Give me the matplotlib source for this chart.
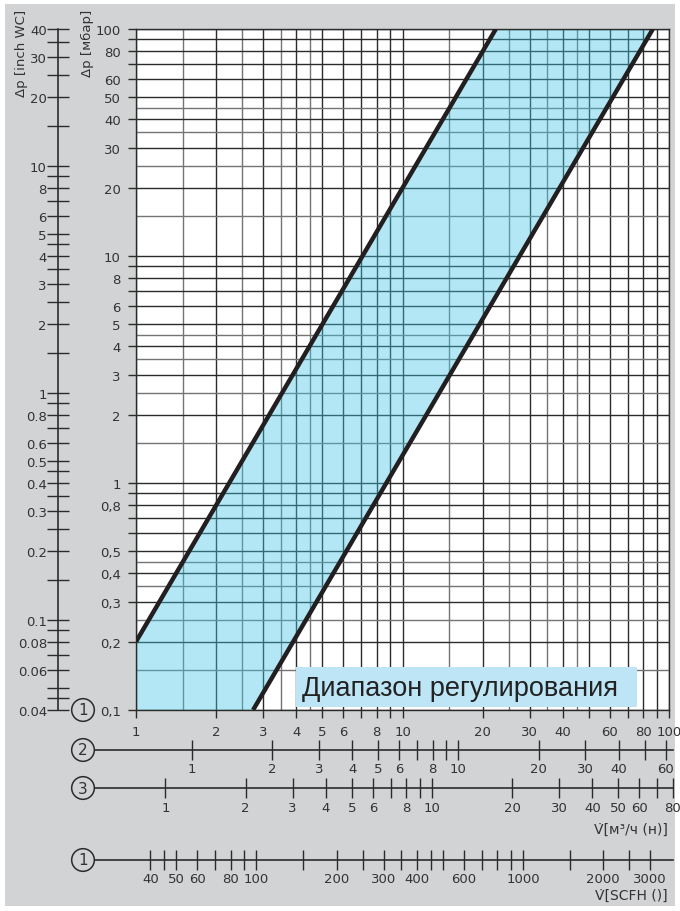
import numpy as np
import matplotlib.pyplot as plt
from matplotlib.ticker import FixedLocator, FixedFormatter, NullLocator
from matplotlib.patches import Rectangle

# границы диапазона регулирования (Δp ~ V²)
flow_left = [1.0, 22.4]
dp_left = [0.2, 100.0]
flow_right = [2.75, 87.0]
dp_right = [0.1, 100.0]

x_labels = [1, 2, 3, 4, 5, 6, 8, 10, 20, 30, 40, 60, 80, 100]
y_labels = [0.1, 0.2, 0.3, 0.4, 0.5, 0.8, 1, 2, 3, 4, 5, 6, 8, 10, 20, 30, 40, 50, 60, 80, 100]
inch_labels = [0.04, 0.06, 0.08, 0.1, 0.2, 0.3, 0.4, 0.5, 0.6, 0.8, 1, 2, 3, 4, 5, 6, 8, 10, 20, 30, 40]
row2_labels = [1, 2, 3, 4, 5, 6, 8, 10, 20, 30, 40, 60]
row3_labels = [1, 2, 3, 4, 5, 6, 8, 10, 20, 30, 40, 50, 60, 80]
scfh_labels = [40, 50, 60, 80, 100, 200, 300, 400, 600, 1000, 2000, 3000]

MBAR_PER_INCH = 2.5
ROW2_FACTOR = 1.62
ROW3_FACTOR = 1.29
SCFH_PER_M3H = 35.31

grid_steps = [1, 1.5, 2, 2.5, 3, 3.5, 4, 4.5, 5, 6, 7, 8, 9]
int_steps = [1, 2, 3, 4, 5, 6, 7, 8, 9]

BG = '#d1d3d4'
INK = '#2b2b2b'
FONT = 'DejaVu Sans'

W, H = 680, 912


def decade_ticks(steps, lo, hi):
    vals = []
    for e in range(-3, 5):
        for s in steps:
            v = s * 10.0 ** e
            if lo * 0.999 <= v <= hi * 1.001:
                vals.append(v)
    return vals


def is_half(v):
    m = v / 10 ** np.floor(np.log10(v) + 1e-9)
    return abs(m % 1 - 0.5) < 1e-6


def fmt(v, comma=False):
    s = f'{v:g}'
    return s.replace('.', ',') if comma else s


def has(v, labels):
    return any(abs(v - l) < 1e-9 * max(1, l) for l in labels)


fig = plt.figure(figsize=(W / 100, H / 100), dpi=100)
fig.patch.set_facecolor('white')
fig.add_artist(Rectangle((5 / W, 5 / H), 1 - 10 / W, 1 - 10 / H, transform=fig.transFigure,
                         facecolor=BG, edgecolor='none', zorder=-10))

# основное поле графика
L, R, T, B = 136, 669, 30, 711
ax = fig.add_axes([L / W, 1 - B / H, (R - L) / W, (B - T) / H])
ax.set_xscale('log')
ax.set_yscale('log')
ax.set_xlim(1, 100)
ax.set_ylim(0.1, 100)
ax.set_facecolor('white')

for v in decade_ticks(grid_steps, 1, 100):
    ax.axvline(v, color='#747474' if is_half(v) else INK, lw=1.0, zorder=1)
for v in decade_ticks(grid_steps, 0.1, 100):
    ax.axhline(v, color='#747474' if is_half(v) else INK, lw=1.0, zorder=1)

fill_x = [flow_left[0]] + flow_left + flow_right[::-1]
fill_y = [dp_right[0]] + dp_left + dp_right[::-1]
ax.fill(fill_x, fill_y, color='#41c5e6', alpha=0.4, lw=0, zorder=2)
ax.plot(flow_left, dp_left, color='#231f20', lw=3.2, zorder=4, solid_capstyle='butt')
ax.plot(flow_right, dp_right, color='#231f20', lw=3.2, zorder=4, solid_capstyle='butt')

ax.add_patch(Rectangle((4.0, 0.103), 72, 0.052, facecolor='#bde5f5', edgecolor='none', zorder=5))
ax.text(4.2, 0.125, 'Диапазон регулирования', fontsize=19.5, family='Liberation Sans',
        color='#222222', va='center', ha='left', zorder=6)

for s in ax.spines.values():
    s.set_color(INK)
    s.set_linewidth(1.0)

xt = decade_ticks(int_steps, 1, 100)
ax.xaxis.set_major_locator(FixedLocator(xt))
ax.xaxis.set_major_formatter(FixedFormatter([fmt(v) if has(v, x_labels) else '' for v in xt]))
ax.xaxis.set_minor_locator(NullLocator())
yt = decade_ticks(int_steps, 0.1, 100)
ax.yaxis.set_major_locator(FixedLocator(yt))
ax.yaxis.set_major_formatter(FixedFormatter([fmt(v, True) if has(v, y_labels) else '' for v in yt]))
ax.yaxis.set_minor_locator(NullLocator())
ax.tick_params(axis='both', direction='out', length=6, width=1, color=INK,
               labelsize=9.5, labelcolor='#333333', pad=5)

# шкала Δp в дюймах водяного столба
ax_in = fig.add_axes([58 / W, 1 - B / H, 0.0001, (B - T) / H])
ax_in.set_yscale('log')
ax_in.set_ylim(0.1 / MBAR_PER_INCH, 100 / MBAR_PER_INCH)
ax_in.set_xticks([])
for k in ('right', 'top', 'bottom'):
    ax_in.spines[k].set_visible(False)
ax_in.spines['left'].set_color(INK)
ax_in.spines['left'].set_linewidth(1.2)
it = decade_ticks(grid_steps, 0.04, 40)
ax_in.yaxis.set_major_locator(FixedLocator(it))
ax_in.yaxis.set_major_formatter(FixedFormatter([fmt(v) if has(v, inch_labels) else '' for v in it]))
ax_in.yaxis.set_minor_locator(NullLocator())
ax_in.tick_params(axis='y', direction='inout', length=16, width=1, color=INK,
                  labelsize=9.5, labelcolor='#333333', pad=0)
ax_in.patch.set_visible(False)

# дополнительные шкалы расхода
lo, hi = 0.69, 103.5


def flow_row(y_px, factor, steps, span, labels):
    left = L + (R - L) * np.log10(lo) / 2
    width = (R - L) * (np.log10(hi) - np.log10(lo)) / 2
    a = fig.add_axes([left / W, 1 - y_px / H, width / W, 0.0001])
    a.set_xscale('log')
    a.set_xlim(lo * factor, hi * factor)
    a.set_yticks([])
    for k in ('left', 'right', 'top'):
        a.spines[k].set_visible(False)
    a.spines['bottom'].set_color(INK)
    a.spines['bottom'].set_linewidth(1.2)
    ticks = decade_ticks(steps, *span)
    a.xaxis.set_major_locator(FixedLocator(ticks))
    a.xaxis.set_major_formatter(FixedFormatter([fmt(v) if has(v, labels) else '' for v in ticks]))
    a.xaxis.set_minor_locator(NullLocator())
    a.tick_params(axis='x', direction='inout', length=14, width=1, color=INK,
                  labelsize=9.5, labelcolor='#333333', pad=2)
    a.patch.set_visible(False)
    return a


flow_row(751, 1 / ROW2_FACTOR, int_steps, (1, 60), row2_labels)
flow_row(789, 1 / ROW3_FACTOR, int_steps, (1, 80), row3_labels)
flow_row(861, SCFH_PER_M3H, grid_steps, (40, 3000), scfh_labels)

# номера шкал в кружках
for num, y in (('1', 711), ('2', 751), ('3', 789), ('1', 861)):
    fig.text(83 / W, 1 - y / H, num, fontsize=11, color='#333333', ha='center', va='center',
             bbox=dict(boxstyle='circle,pad=0.25', facecolor=BG, edgecolor=INK, lw=1.1))

fig.text(22 / W, 1 - 10 / H, 'Δp [inch WC]', rotation=90, ha='center', va='top',
         fontsize=9.5, color='#333333', family=FONT)
fig.text(87 / W, 1 - 10 / H, 'Δp [мбар]', rotation=90, ha='center', va='top',
         fontsize=9.5, color='#333333', family=FONT)
fig.text(668 / W, 1 - 830 / H, 'V̇[м³/ч (н)]', ha='right', va='center',
         fontsize=10, color='#333333', family=FONT)
fig.text(668 / W, 1 - 896 / H, 'V̇[SCFH ()]', ha='right', va='center',
         fontsize=10, color='#333333', family=FONT)

fig.savefig('out.png', dpi=100, facecolor=fig.get_facecolor())
